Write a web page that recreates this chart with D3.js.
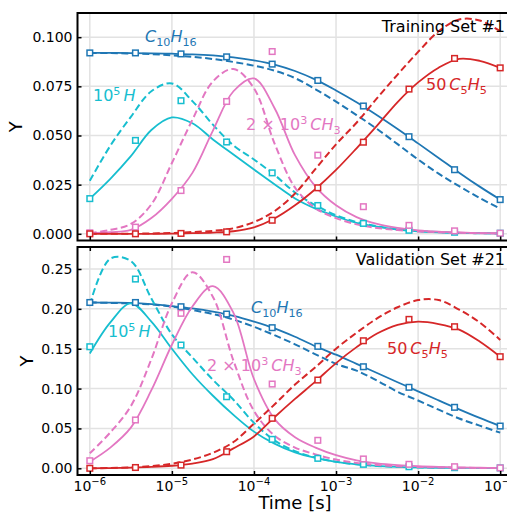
<!DOCTYPE html>
<html>
<head>
<meta charset="utf-8">
<script src="https://cdn.jsdelivr.net/npm/d3@7"></script>
<style>
body{margin:0;background:#fff}
text{font-family:"DejaVu Sans",sans-serif}
</style>
</head>
<body>
<script>
// time grid (log10 of seconds) for the model curves
var logT=[-6,-5.75,-5.5,-5.25,-5,-4.75,-4.5,-4.25,-4,-3.75,-3.5,-3.25,-3,-2.75,-2.5,-2.25,-2,-1.75,-1.5,-1.25,-1]
// time of the square markers (log10 s)
var markLogT=[-6,-5.444,-4.889,-4.333,-3.778,-3.222,-2.667,-2.111,-1.556,-1]
var xTickExp=[-6,-5,-4,-3,-2,-1]
var trainTicks=[0,0.025,0.05,0.075,0.1]
var validTicks=[0,0.05,0.1,0.15,0.2,0.25]

// Training Set #1
var trainC10Solid=[0.0920,0.0920,0.0919,0.0918,0.0916,0.0913,0.0907,0.0897,0.0882,0.0861,0.0828,0.0784,0.0729,0.0669,0.0603,0.0533,0.0460,0.0386,0.0311,0.0240,0.0174]
var trainC10Dash=[0.0920,0.0919,0.0917,0.0914,0.0908,0.0900,0.0889,0.0874,0.0855,0.0830,0.0792,0.0735,0.0672,0.0604,0.0533,0.0456,0.0378,0.0306,0.0242,0.0182,0.0128]
var trainC10Pts=[0.092,0.092,0.0915,0.090,0.0863,0.078,0.065,0.0494,0.0326,0.0174]
var trainHSolid=[0.0179,0.0280,0.0395,0.0528,0.0592,0.0562,0.0480,0.0403,0.0327,0.0252,0.0180,0.0128,0.0088,0.0056,0.0036,0.0022,0.0013,0.0008,0.0005,0.0003,0.0002]
var trainHDash=[0.0270,0.0448,0.0595,0.0725,0.0765,0.0675,0.0555,0.0450,0.0378,0.0300,0.0210,0.0145,0.0095,0.0060,0.0038,0.0023,0.0014,0.0009,0.0005,0.0003,0.0002]
var trainHPts=[0.0179,0.0475,0.0677,0.0467,0.031,0.0144,0.0053,0.0018,0.0008,0.0003]
var trainCH3Solid=[0.0003,0.0008,0.0020,0.0080,0.0178,0.0310,0.0525,0.0725,0.0790,0.0640,0.0400,0.0240,0.0145,0.0085,0.0050,0.0030,0.0018,0.0011,0.0007,0.0004,0.0003]
var trainCH3Dash=[0.0003,0.0020,0.0050,0.0150,0.0360,0.0580,0.0775,0.0838,0.0740,0.0460,0.0235,0.0130,0.0080,0.0048,0.0030,0.0019,0.0012,0.0008,0.0005,0.0003,0.0002]
var trainCH3Pts=[0.0005,0.0034,0.022,0.0673,0.0927,0.040,0.0138,0.0043,0.0015,0.0003]
var trainC5Solid=[0,0,0,0,0.0001,0.0003,0.0006,0.0013,0.0033,0.0078,0.0145,0.0228,0.0325,0.0435,0.0550,0.0670,0.0770,0.0845,0.0890,0.0880,0.0844]
var trainC5Dash=[0,0,0.0001,0.0002,0.0004,0.0009,0.0015,0.0028,0.0060,0.0115,0.0205,0.0330,0.0455,0.0565,0.0690,0.0810,0.0925,0.1030,0.1090,0.1085,0.1030]
var trainC5Pts=[0,0,0.0002,0.001,0.0069,0.0234,0.0466,0.0736,0.0892,0.0844]

// Validation Set #21
var validC10Solid=[0.2080,0.2078,0.2075,0.2060,0.2035,0.2005,0.1965,0.1912,0.1840,0.1755,0.1650,0.1530,0.1425,0.1310,0.1195,0.1080,0.0965,0.0852,0.0740,0.0632,0.0530]
var validC10Dash=[0.2080,0.2075,0.2068,0.2055,0.2030,0.1985,0.1935,0.1865,0.1775,0.1670,0.1555,0.1430,0.1310,0.1225,0.1100,0.0960,0.0850,0.0735,0.0625,0.0535,0.0447]
var validC10Pts=[0.208,0.208,0.2027,0.1935,0.1764,0.153,0.1274,0.1016,0.0765,0.053]
var validHSolid=[0.1440,0.1830,0.2070,0.1840,0.1500,0.1180,0.0910,0.0670,0.0460,0.0310,0.0200,0.0130,0.0080,0.0050,0.0030,0.0018,0.0011,0.0007,0.0005,0.0004,0.0003]
var validHDash=[0.2050,0.2630,0.2600,0.2130,0.1680,0.1390,0.1110,0.0860,0.0570,0.0350,0.0215,0.0135,0.0082,0.0050,0.0030,0.0018,0.0011,0.0007,0.0005,0.0004,0.0003]
var validHPts=[0.1525,0.2374,0.1546,0.0898,0.0363,0.0125,0.005,0.002,0.0008,0.0005]
var validCH3Solid=[0.0083,0.0260,0.0510,0.0980,0.1550,0.2030,0.2285,0.1950,0.1120,0.0620,0.0390,0.0260,0.0165,0.0100,0.0062,0.0040,0.0026,0.0017,0.0011,0.0007,0.0005]
var validCH3Dash=[0.0188,0.0450,0.0780,0.1370,0.2070,0.2460,0.2150,0.1350,0.0720,0.0410,0.0260,0.0175,0.0110,0.0068,0.0042,0.0027,0.0017,0.0011,0.0007,0.0005,0.0003]
var validCH3Pts=[0.0095,0.0606,0.1944,0.262,0.1057,0.0351,0.0117,0.005,0.002,0.0005]
var validC5Solid=[0,0.0003,0.0008,0.0017,0.0032,0.0060,0.0115,0.0250,0.0400,0.0640,0.0870,0.1090,0.1320,0.1520,0.1690,0.1800,0.1840,0.1810,0.1740,0.1590,0.1400]
var validC5Dash=[0,0.0004,0.0012,0.0028,0.0058,0.0110,0.0195,0.0330,0.0560,0.0800,0.1050,0.1270,0.1500,0.1700,0.1880,0.2020,0.2110,0.2110,0.1990,0.1830,0.1610]
var validC5Pts=[0,0.001,0.004,0.0208,0.0627,0.1107,0.16,0.1868,0.1776,0.14]

var colors={c10:"#1f77b4",h:"#17becf",ch3:"#e377c2",c5:"#d62728"}

var screen={width:507,height:514}
var left=77.5, right=512.5

var svg=d3.select("body").append("svg")
  .attr("width",screen.width)
  .attr("height",screen.height)

var xScale=d3.scaleLog()
  .domain([Math.pow(10,-6.15),Math.pow(10,-0.85)])
  .range([left,right])

var panels=[
  {top:13,bottom:240.5,domain:[-0.0034,0.1123],ticks:trainTicks,fmt:d3.format(".3f"),
   title:"Training Set #1",titleY:32,yLabelX:22,
   series:[
     {c:colors.c10,solid:trainC10Solid,dash:trainC10Dash,pts:trainC10Pts},
     {c:colors.h,solid:trainHSolid,dash:trainHDash,pts:trainHPts},
     {c:colors.ch3,solid:trainCH3Solid,dash:trainCH3Dash,pts:trainCH3Pts},
     {c:colors.c5,solid:trainC5Solid,dash:trainC5Dash,pts:trainC5Pts}],
   labels:[
     {c:colors.c10,x:145,y:42,parts:[["C","i"],["10","sub"],["H","i"],["16","sub"]]},
     {c:colors.h,x:93,y:101,parts:[["10",""],["5","sup"],["H","i",3]]},
     {c:colors.ch3,x:246,y:130,parts:[["2 \u00d7 10",""],["3","sup"],["C","i",3],["H","i"],["3","sub"]]},
     {c:colors.c5,x:426,y:90,parts:[["50",""],["C","i",3],["5","sub"],["H","i"],["5","sub"]]}]},
  {top:247,bottom:475,domain:[-0.0084,0.2776],ticks:validTicks,fmt:d3.format(".2f"),
   title:"Validation Set #21",titleY:265,yLabelX:33,xLabels:true,
   series:[
     {c:colors.c10,solid:validC10Solid,dash:validC10Dash,pts:validC10Pts},
     {c:colors.h,solid:validHSolid,dash:validHDash,pts:validHPts},
     {c:colors.ch3,solid:validCH3Solid,dash:validCH3Dash,pts:validCH3Pts},
     {c:colors.c5,solid:validC5Solid,dash:validC5Dash,pts:validC5Pts}],
   labels:[
     {c:colors.c10,x:251,y:313,parts:[["C","i"],["10","sub"],["H","i"],["16","sub"]]},
     {c:colors.h,x:108,y:337,parts:[["10",""],["5","sup"],["H","i",3]]},
     {c:colors.ch3,x:207,y:371,parts:[["2 \u00d7 10",""],["3","sup"],["C","i",3],["H","i"],["3","sub"]]},
     {c:colors.c5,x:387,y:354,parts:[["50",""],["C","i",3],["5","sub"],["H","i"],["5","sub"]]}]}
]

// math-like text with italic letters and sub/superscripts
var mathText=function(g,lab,size)
{
  var t=g.append("text").attr("x",lab.x).attr("y",lab.y)
    .attr("fill",lab.c).style("font-size",size+"px")
  var shift=0
  lab.parts.forEach(function(p){
    var target=p[1]=="sub"?size*0.25:(p[1]=="sup"?-size*0.4:0)
    var ts=t.append("tspan").text(p[0]).attr("dy",target-shift)
    if(p[2]) ts.attr("dx",p[2])
    if(p[1]=="i") ts.style("font-style","italic")
    if(p[1]=="sub"||p[1]=="sup") ts.style("font-size",(size*0.7)+"px")
    shift=target
  })
}

panels.forEach(function(p,pi){
  var yScale=d3.scaleLinear().domain(p.domain).range([p.bottom,p.top])
  var g=svg.append("g")
  var clipId="clip"+pi
  svg.append("clipPath").attr("id",clipId).append("rect")
    .attr("x",left).attr("y",p.top).attr("width",right-left).attr("height",p.bottom-p.top)

  //grid
  g.selectAll(".gx").data(xTickExp).enter().append("line")
    .attr("x1",function(d){return xScale(Math.pow(10,d))})
    .attr("x2",function(d){return xScale(Math.pow(10,d))})
    .attr("y1",p.top).attr("y2",p.bottom)
    .attr("stroke","#e2e2e2").attr("stroke-width",1.5)
  g.selectAll(".gy").data(p.ticks).enter().append("line")
    .attr("x1",left).attr("x2",right)
    .attr("y1",function(d){return yScale(d)})
    .attr("y2",function(d){return yScale(d)})
    .attr("stroke","#e2e2e2").attr("stroke-width",1.5)

  var plot=g.append("g").attr("clip-path","url(#"+clipId+")")
  var line=d3.line()
    .x(function(d,i){return xScale(Math.pow(10,logT[i]))})
    .y(function(d){return yScale(d)})
    .curve(d3.curveCatmullRom.alpha(0.5))
  p.series.forEach(function(s){
    plot.append("path").datum(s.dash).attr("d",line)
      .attr("fill","none").attr("stroke",s.c).attr("stroke-width",2)
      .attr("stroke-dasharray","7,3.5")
    plot.append("path").datum(s.solid).attr("d",line)
      .attr("fill","none").attr("stroke",s.c).attr("stroke-width",1.8)
  })
  p.series.forEach(function(s){
    plot.selectAll(null).data(s.pts).enter().append("rect")
      .attr("x",function(d,i){return xScale(Math.pow(10,markLogT[i]))-2.8})
      .attr("y",function(d){return yScale(d)-2.8})
      .attr("width",5.6).attr("height",5.6)
      .attr("fill","#fff").attr("stroke",s.c).attr("stroke-width",1.5)
  })

  //axes
  var yAxis=d3.axisLeft(yScale).tickValues(p.ticks).tickFormat(p.fmt)
    .tickSizeInner(-4).tickSizeOuter(0).tickPadding(5)
  var ya=g.append("g").attr("transform","translate("+left+",0)").call(yAxis)
  ya.select(".domain").remove()
  ya.selectAll("text").style("font-size","14px").attr("fill","#000").attr("font-family","DejaVu Sans")
  ya.selectAll("line").attr("stroke-width",1.5)

  var xAxis=(pi==0?d3.axisBottom(xScale):d3.axisTop(xScale))
    .tickValues(xTickExp.map(function(d){return Math.pow(10,d)}))
    .tickFormat("").tickSizeInner(-4).tickSizeOuter(0)
  g.append("g").attr("transform","translate(0,"+(pi==0?p.bottom:p.top)+")")
    .call(xAxis).call(function(a){a.select(".domain").remove();a.selectAll("line").attr("stroke-width",1.5)})
  if(p.xLabels){
    var bx=g.append("g").attr("transform","translate(0,"+p.bottom+")")
      .call(d3.axisBottom(xScale).tickValues(xTickExp.map(function(d){return Math.pow(10,d)}))
        .tickFormat("").tickSizeInner(-4).tickSizeOuter(0))
    bx.select(".domain").remove()
    bx.selectAll("line").attr("stroke-width",1.5)
    var xl=g.selectAll(".xl").data(xTickExp).enter().append("text")
      .attr("x",function(d){return xScale(Math.pow(10,d))})
      .attr("y",p.bottom+15.5)
      .attr("text-anchor","middle").style("font-size","14px")
    xl.append("tspan").text("10")
    xl.append("tspan").text(function(d){return "\u2212"+(-d)})
      .attr("dy",-6).style("font-size","10px")
    svg.append("text").attr("x",(left+right)/2).attr("y",509)
      .attr("text-anchor","middle").style("font-size","18px").text("Time [s]")
  }

  //frame
  g.append("rect").attr("x",left).attr("y",p.top)
    .attr("width",right-left).attr("height",p.bottom-p.top)
    .attr("fill","none").attr("stroke","#000").attr("stroke-width",2)

  g.append("text").attr("x",505).attr("y",p.titleY)
    .attr("text-anchor","end").style("font-size","16px").text(p.title)
  g.append("text").attr("transform","translate("+p.yLabelX+","+((p.top+p.bottom)/2)+") rotate(-90)")
    .attr("text-anchor","middle").style("font-size","18px").text("Y")

  p.labels.forEach(function(l){mathText(g,l,16)})
})
</script>
</body>
</html>
